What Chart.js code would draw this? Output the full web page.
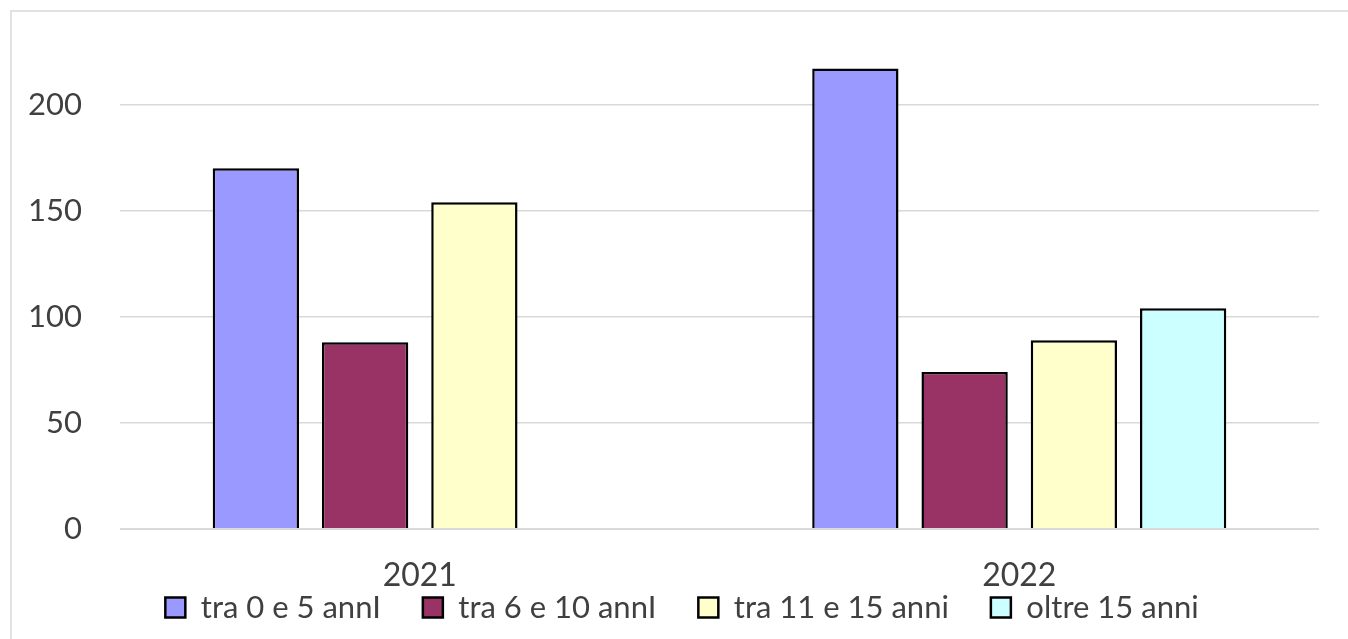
<!DOCTYPE html>
<html lang="it">
<head>
<meta charset="UTF-8">
<title>Grafico</title>
<script src="https://cdn.jsdelivr.net/npm/chart.js"></script>
<style>
  html, body { margin: 0; padding: 0; background: #ffffff; }
  #wrap { position: relative; width: 1348px; height: 639px; }
</style>
</head>
<body>
<div id="wrap"><canvas id="chart"></canvas></div>
<script>
// data
const years = ['2021', '2022'];
const seriesNames = ['tra 0 e 5 annI', 'tra 6 e 10 annI', 'tra 11 e 15 anni', 'oltre 15 anni'];
const tra0e5 = [170, 217];
const tra6e10 = [88, 74];
const tra11e15 = [154, 89];
const oltre15 = [null, 104];
const yTicks = [0, 50, 100, 150, 200];

const fills = ['#9999ff', '#993366', '#ffffcc', '#ccffff'];
const textColor = '#404040';
const gridColor = '#d9d9d9';

Chart.defaults.font.family = 'Lato, "Open Sans", sans-serif';
Chart.defaults.color = textColor;

// light frame round the chart, like the office chart border
const framePlugin = {
  id: 'frame',
  beforeDraw(chart) {
    const ctx = chart.ctx;
    ctx.save();
    ctx.strokeStyle = gridColor;
    ctx.lineWidth = 1.5;
    ctx.strokeRect(11, 11, chart.width + 20, chart.height + 20);
    ctx.restore();
  }
};

// the legend sits closer to the year labels than chart.js would put it
const legendShift = {
  id: 'legendShift',
  afterLayout(chart) {
    const lg = chart.legend;
    if (lg) {
      const h = lg.bottom - lg.top;
      lg.top = 550;
      lg.bottom = lg.top + h;
      lg.left += 22.5;
      lg.right += 22.5;
    }
    // let the year labels use the room below the axis (labels are clipped to the box)
    chart.scales.x.bottom = chart.height;
  }
};

const allValues = [tra0e5, tra6e10, tra11e15, oltre15];
const datasets = seriesNames.map((name, i) => ({
  label: name,
  data: allValues[i],
  backgroundColor: fills[i],
  borderColor: '#000000',
  borderWidth: 2.5,
  categoryPercentage: 0.729,
  barPercentage: 0.79
}));

new Chart(document.getElementById('chart'), {
  type: 'bar',
  data: { labels: years, datasets: datasets },
  options: {
    responsive: true,
    maintainAspectRatio: false,
    animation: false,
    layout: { padding: { top: 41, bottom: 0, left: 0, right: 29 } },
    plugins: {
      tooltip: { enabled: false },
      legend: {
        position: 'bottom',
        maxHeight: 80,
        labels: {
          boxWidth: 20,
          boxHeight: 20,
          padding: 42,
          color: textColor,
          font: { size: 31 }
        }
      }
    },
    scales: {
      x: {
        grid: { display: false },
        border: { display: false },
        ticks: { padding: 19, color: textColor, font: { size: 32 } },
        afterFit(scale) { scale.height = 30; }
      },
      y: {
        min: 0,
        max: 230,
        grid: {
          color: gridColor,
          lineWidth: (c) => (c.tick && c.tick.value === 0 ? 2 : 1.5),
          drawTicks: false
        },
        border: { display: false },
        ticks: { padding: 38, color: textColor, font: { size: 31 } },
        afterBuildTicks(scale) { scale.ticks = yTicks.map(v => ({ value: v })); },
        afterFit(scale) {
          scale.width = 120;
          scale.paddingTop = 0;
          scale.paddingBottom = 0;
        }
      }
    }
  },
  plugins: [framePlugin, legendShift]
});
</script>
</body>
</html>
